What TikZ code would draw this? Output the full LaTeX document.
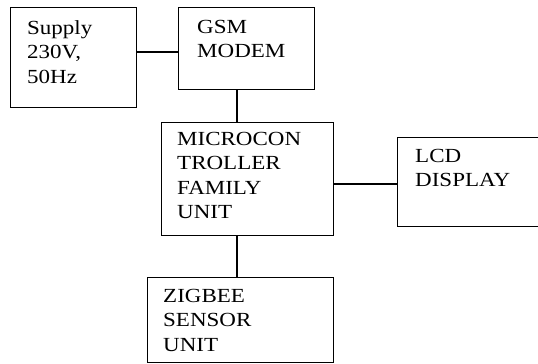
\documentclass[tikz,border=0pt]{standalone}
\usepackage{fontspec}
\setmainfont[FakeStretch=1.15]{Liberation Serif}
\begin{document}
\begin{tikzpicture}[
    x=1pt, y=-1pt,
    box/.style={rectangle, draw, line width=1.3pt, inner sep=0pt, anchor=north west},
    txt/.style={align=left, inner sep=0pt, anchor=north west, font=\fontsize{20}{24.5}\selectfont},
    link/.style={line width=1.2pt}
]
    \useasboundingbox (0,0) rectangle (538,364);
    \clip (0,0) rectangle (538,364);

    % blocks
    \node[box, minimum width=126pt, minimum height=100pt] (sup) at (10,7) {};
    \node[box, minimum width=136pt, minimum height=82pt] (gsm) at (178,7) {};
    \node[box, minimum width=172pt, minimum height=113pt] (mcu) at (161,122) {};
    \node[box, minimum width=150pt, minimum height=89pt] (lcd) at (397,137) {};
    \node[box, minimum width=186pt, minimum height=85pt] (zig) at (147,277) {};

    % texts
    \node[txt] (suptxt) at (27,20) {Supply\\230V,\\50Hz};
    \node[txt] (gsmtxt) at (197,20) {GSM\\MODEM};
    \node[txt] (mcutxt) at (177,132) {MICROCON\\TROLLER\\FAMILY\\UNIT};
    \node[txt] (lcdtxt) at (415,149) {LCD\\DISPLAY};
    \node[txt] (zigtxt) at (163,289) {ZIGBEE\\SENSOR\\UNIT};

    % links
    \coordinate (j1) at (0,52);
    \coordinate (j2) at (237,0);
    \coordinate (j3) at (0,184);
    \draw[link] (sup.east |- j1) -- (gsm.west |- j1);
    \draw[link] (gsm.south -| j2) -- (mcu.north -| j2);
    \draw[link] (mcu.east |- j3) -- (lcd.west |- j3);
    \draw[link] (mcu.south -| j2) -- (zig.north -| j2);
\end{tikzpicture}
\end{document}
